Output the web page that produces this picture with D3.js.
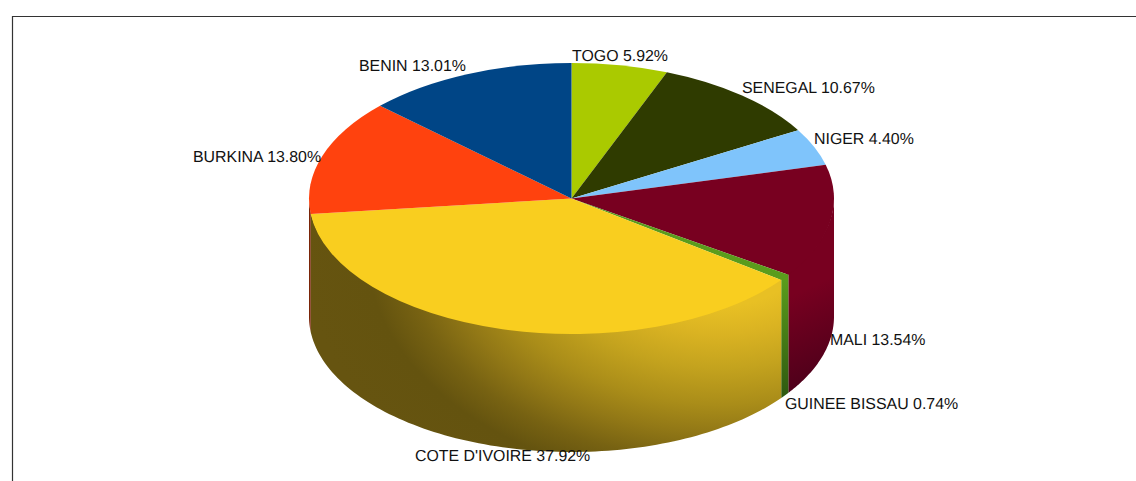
<!DOCTYPE html>
<html>
<head>
<meta charset="utf-8">
<script src="https://cdn.jsdelivr.net/npm/d3@7"></script>
<style>
  html, body {margin: 0; padding: 0; background: #fff; overflow: hidden}
  svg {display: block}
  text {font-family: "Liberation Sans", sans-serif; font-size: 15.9px; fill: #111; text-rendering: geometricPrecision}
</style>
</head>
<body>
<div id="chart"></div>
<script>
var categories = ['TOGO', 'SENEGAL', 'NIGER', 'MALI', 'GUINEE BISSAU', "COTE D'IVOIRE", 'BURKINA', 'BENIN']
var shares = [5.92, 10.67, 4.40, 13.54, 0.74, 37.92, 13.80, 13.01]
var topColors = ['#aaca00', '#2f3b00', '#7fc4fb', '#780020', '#5a9c1c', '#f9ce1f', '#ff420e', '#004586']

var w = 1136, h = 481
var cx = 571.5, cy = 198.5, rx = 262.5, ry = 135.5, depth = 118

var svg = d3.select('#chart').append('svg').attr('width', w).attr('height', h)
var defs = svg.append('defs')

function addStops(g, stops) {
  stops.forEach(function(s) {
    g.append('stop').attr('offset', s[0]).attr('stop-color', s[1])
  })
}
function wallGradient(id, stops, x1, y1, x2, y2) {
  var g = defs.append('linearGradient').attr('id', id)
      .attr('gradientUnits', 'userSpaceOnUse')
      .attr('x1', x1).attr('y1', y1).attr('x2', x2).attr('y2', y2)
  addStops(g, stops)
}
wallGradient('wall-mali', [[0, '#780020'], [0.35, '#780020'], [1, '#4c001a']], 770, 250, 830, 380)
wallGradient('wall-guinee', [[0, '#5a9c1c'], [1, '#2f5a10']], 784, 280, 784, 395)

// the big wall is lit from the upper right, so it falls off in an ellipse
var coteWall = defs.append('radialGradient').attr('id', 'wall-cote')
    .attr('gradientUnits', 'userSpaceOnUse')
    .attr('cx', 0).attr('cy', 0).attr('r', 1)
    .attr('gradientTransform', 'translate(720,250) scale(420,280)')
addStops(coteWall, [[0.2, '#e8c024'], [0.3, '#dab322'], [0.42, '#c4a31e'], [0.55, '#aa8d19'], [0.65, '#927816'],
  [0.75, '#776212'], [0.84, '#64530f'], [1, '#665410']])

var wallFill = {"MALI": 'url(#wall-mali)', "COTE D'IVOIRE": 'url(#wall-cote)', 'GUINEE BISSAU': 'url(#wall-guinee)', 'BURKINA': '#7a2408'}

svg.append('path').attr('d', 'M12.5,481V16.5H1136').attr('fill', 'none').attr('stroke', '#333').attr('stroke-width', 1.2)

var pie = d3.pie().sort(null)
var slices = pie(shares)

var px = function(a) {return cx + rx * Math.sin(a)},
    py = function(a) {return cy - ry * Math.cos(a)}

// top edge pulled up a little so no pale seam shows under the lid
var wall = d3.area()
    .x(px)
    .y0(function(a) {return py(a) - 1.5})
    .y1(function(a) {return py(a) + depth})

// only the part of a slice facing the viewer (90deg to 270deg) has a wall
var front = slices.filter(function(s) {return s.endAngle > Math.PI / 2 && s.startAngle < 3 * Math.PI / 2})

front.forEach(function(s) {
  var a0 = Math.max(s.startAngle, Math.PI / 2), a1 = Math.min(s.endAngle, 3 * Math.PI / 2)
  svg.append('path')
      .attr('d', wall(d3.range(0, 101).map(function(i) {return a0 + (a1 - a0) * i / 100})))
      .attr('fill', wallFill[categories[s.index]])
})

var arc = d3.arc().innerRadius(0).outerRadius(rx)
svg.append('g')
    .attr('transform', 'translate(' + cx + ',' + cy + ') scale(1,' + (ry / rx) + ')')
  .selectAll('path')
  .data(slices)
  .enter().append('path')
    .attr('d', arc)
    .attr('fill', function(d) {return topColors[d.index]})

var labelAt = [[572, 61], [742, 93], [814, 144], [830, 345], [785, 409], [415, 461], [193, 162], [359, 71]]
svg.append('g').selectAll('text')
  .data(categories)
  .enter().append('text')
    .attr('x', function(d, i) {return labelAt[i][0]})
    .attr('y', function(d, i) {return labelAt[i][1]})
    .text(function(d, i) {return d + ' ' + shares[i].toFixed(2) + '%'})
</script>
</body>
</html>
